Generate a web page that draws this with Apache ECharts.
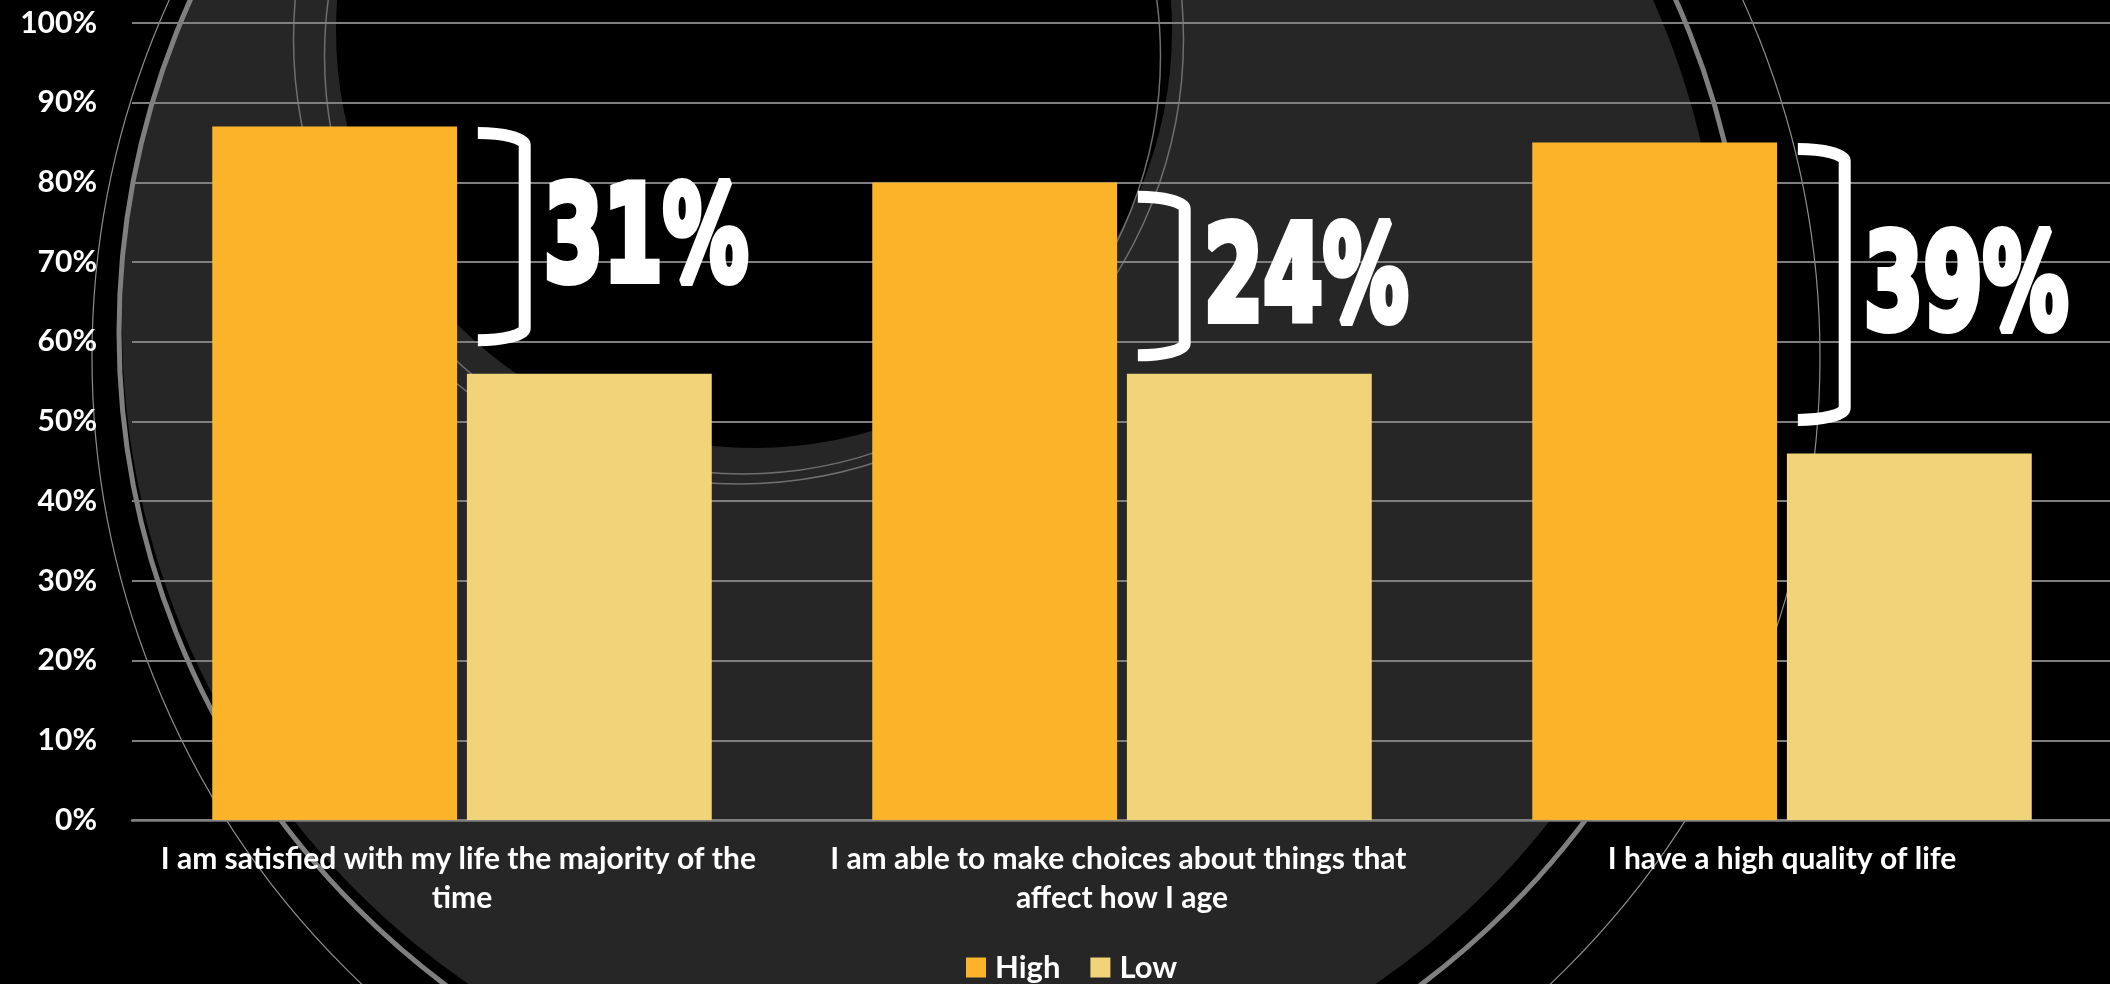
<!DOCTYPE html>
<html>
<head>
<meta charset="utf-8">
<script src="https://cdn.jsdelivr.net/npm/echarts@6/dist/echarts.min.js"></script>
<style>
  html, body { margin: 0; padding: 0; background: #000; }
  #chart { width: 2110px; height: 984px; }
</style>
</head>
<body>
<div id="chart"></div>
<script>
// ---- data ----
const categories = [
  'I am satisfied with my life the majority of the time',
  'I am able to make choices about things that affect how I age',
  'I have a high quality of life'
];
const seriesNames = ['High', 'Low'];
const highValues = [87, 80, 85];
const lowValues = [56, 56, 46];
const gapLabels = ['31%', '24%', '39%'];
const bracketTop = [86.2, 78.2, 84.2];
const bracketBottom = [60.2, 58.3, 50.2];
const yTickValues = [0, 10, 20, 30, 40, 50, 60, 70, 80, 90, 100];

// ---- styles ----
const HIGH_COLOR = '#FBB429';
const LOW_COLOR = '#F1D37A';
const LABEL_FONT = 'Lato';
const BIG_FONT_SIZE = 132;
const BIG_FONT = 'bold ' + BIG_FONT_SIZE + 'px "DejaVu Sans"';
const BIG_STROKE = 8;

// horizontal squeeze for big numbers (emulates a condensed display face)
const mctx = document.createElement('canvas').getContext('2d');
mctx.font = BIG_FONT;
const refWidth = mctx.measureText('24%').width + BIG_STROKE;
const bigScaleX = 210 / refWidth;

const bracketData = categories.map((c, i) => [i, bracketTop[i], bracketBottom[i], gapLabels[i]]);

function renderBracket(params, api) {
  const ci = api.value(0);
  const pTop = api.coord([ci, api.value(1)]);
  const pBot = api.coord([ci, api.value(2)]);
  const bw = api.size([1, 0])[0];
  const cx = pTop[0];
  const x0 = cx + bw * 0.024;
  const x1 = cx + bw * 0.095;
  const yT = pTop[1];
  const yB = pBot[1];
  const ry = 12;
  const k = 0.5523;
  const w = x1 - x0;
  const d = 'M' + x0 + ' ' + yT +
    ' C' + (x0 + w * k) + ' ' + yT + ' ' + x1 + ' ' + (yT + ry * (1 - k)) + ' ' + x1 + ' ' + (yT + ry) +
    ' L' + x1 + ' ' + (yB - ry) +
    ' C' + x1 + ' ' + (yB - ry * (1 - k)) + ' ' + (x0 + w * k) + ' ' + yB + ' ' + x0 + ' ' + yB;
  const label = gapLabels[params.dataIndex];
  return {
    type: 'group',
    children: [
      {
        type: 'path',
        shape: { pathData: d },
        style: { stroke: '#fff', lineWidth: 12, fill: null, lineCap: 'butt', lineJoin: 'round' }
      },
      {
        type: 'text',
        x: x1 + 6 + 13,
        y: (yT + yB) / 2 + 9.5,
        scaleX: bigScaleX,
        scaleY: 1,
        style: {
          text: label,
          font: BIG_FONT,
          fill: '#fff',
          stroke: '#fff',
          lineWidth: BIG_STROKE,
          align: 'left',
          verticalAlign: 'middle'
        }
      }
    ]
  };
}

// background decoration (slide theme circles)
const bg = [
  { type: 'circle', shape: { cx: 922, cy: 325, r: 800 }, style: { fill: '#262626' } },
  { type: 'circle', shape: { cx: 933, cy: 333, r: 814 }, style: { fill: null, stroke: '#7f7f7f', lineWidth: 5 } },
  { type: 'circle', shape: { cx: 956, cy: 357, r: 864 }, style: { fill: null, stroke: '#8c8c8c', lineWidth: 1.2 } },
  { type: 'circle', shape: { cx: 754, cy: 30, r: 418 }, style: { fill: '#000' } },
  { type: 'circle', shape: { cx: 738.5, cy: 39, r: 445 }, style: { fill: null, stroke: '#6e6e6e', lineWidth: 1.5 } },
  { type: 'circle', shape: { cx: 742.5, cy: 56, r: 418 }, style: { fill: null, stroke: '#6e6e6e', lineWidth: 1.5 } }
].map(e => Object.assign(e, { z: -100, silent: true }));

const chart = echarts.init(document.getElementById('chart'), null, { renderer: 'canvas' });
chart.setOption({
  backgroundColor: '#000',
  animation: false,
  graphic: { elements: bg },
  grid: { left: 132, right: -2, top: 23, bottom: 164, containLabel: false, outerBoundsMode: 'none' },
  legend: {
    data: seriesNames,
    left: 961,
    top: 947,
    icon: 'rect',
    itemWidth: 20,
    itemHeight: 20,
    itemGap: 30,
    textStyle: { color: '#fff', fontFamily: LABEL_FONT, fontWeight: 'bold', fontSize: 31, lineHeight: 30, padding: [0, 0, 0, 4] }
  },
  xAxis: {
    type: 'category',
    data: categories,
    axisTick: { show: false },
    axisLine: { lineStyle: { color: '#808080', width: 2.5 } },
    axisLabel: {
      interval: 0,
      color: '#fff',
      fontFamily: LABEL_FONT,
      fontWeight: 'bold',
      fontSize: 30,
      lineHeight: 39,
      margin: 20,
      width: 620,
      overflow: 'break'
    }
  },
  yAxis: {
    type: 'value',
    min: yTickValues[0],
    max: yTickValues[yTickValues.length - 1],
    interval: yTickValues[1] - yTickValues[0],
    axisLine: { show: false },
    axisTick: { show: false },
    splitLine: { lineStyle: { color: '#7f7f7f', width: 2 } },
    axisLabel: {
      formatter: '{value}%',
      color: '#fff',
      fontFamily: LABEL_FONT,
      fontWeight: 'bold',
      fontSize: 30,
      margin: 35
    }
  },
  series: [
    { name: seriesNames[0], type: 'bar', data: highValues, barWidth: '37.1%', barGap: '4%', itemStyle: { color: HIGH_COLOR } },
    { name: seriesNames[1], type: 'bar', data: lowValues, barWidth: '37.1%', barGap: '4%', itemStyle: { color: LOW_COLOR } },
    {
      name: 'gap',
      type: 'custom',
      renderItem: renderBracket,
      data: bracketData,
      encode: { x: 0, y: [1, 2] },
      z: 10,
      silent: true
    }
  ]
});
</script>
</body>
</html>
